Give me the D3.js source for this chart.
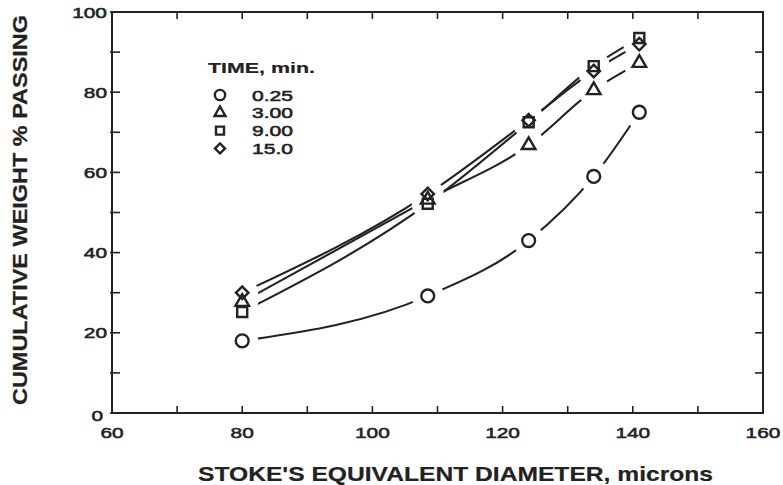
<!DOCTYPE html>
<meta charset="utf-8">
<style>
body { margin: 0; background: #fff; }
svg text {
  font-family: "Liberation Sans", Arial, sans-serif;
  fill: #222;
  stroke: #222;
  stroke-width: 0.55px;
}
text.title { font-weight: bold; stroke-width: 0.2px; }
.frame { fill: none; stroke: #222; stroke-width: 2px; }
.curve { fill: none; stroke: #222; stroke-width: 2.1px; }
.mark { fill: none; stroke: #222; stroke-width: 2.4px; }
.gap { fill: #fff; stroke: none; }
</style>

<svg width="783" height="485"></svg>

<script src="https://d3js.org/d3.v7.min.js"></script>
<script>
// data
var diameters = [80, 108.5, 124, 134, 141];
var times = ["0.25", "3.00", "9.00", "15.0"];
var passing025 = [18, 29.2, 43, 59, 75];
var passing300 = [27.7, 53.2, 66.8, 80.5, 87.3];
var passing900 = [25.2, 52.2, 72.5, 86.5, 93.5];
var passing150 = [30, 54.6, 73, 85.3, 92];
var xTicks = [60, 80, 100, 120, 140, 160];
var yTicks = [0, 20, 40, 60, 80, 100];

var series = [
  {time: times[0], values: passing025, shape: "circle"},
  {time: times[1], values: passing300, shape: "triangle"},
  {time: times[2], values: passing900, shape: "square"},
  {time: times[3], values: passing150, shape: "diamond"}
];

var svg = d3.select("svg");
var x = d3.scaleLinear().domain([60, 160]).range([112, 763]);
var y = d3.scaleLinear().domain([0, 100]).range([413, 12]);

// symbol path per shape
function shapePath(shape, s) {
  s = s || 1;
  if (shape == "circle") return d3.symbol(d3.symbolCircle, 130 * s * s)();
  if (shape == "triangle") return d3.symbol(d3.symbolTriangle, 80 * s * s)();
  if (shape == "square") return d3.symbol(d3.symbolSquare, 100 * s * s)();
  return d3.symbol(d3.symbolSquare, 78 * s * s)();
}

// frame + ticks (all pointing inward)
var minor = d3.range(60, 161, 10), minorY = d3.range(0, 101, 10);
var g = svg.append("g").style("stroke", "#222").style("stroke-width", 1.6);
g.selectAll(".bt").data(minor).enter().append("line")
  .attr("x1", d => x(d)).attr("x2", d => x(d)).attr("y1", y(0)).attr("y2", y(0) - 7);
g.selectAll(".tt").data(minor).enter().append("line")
  .attr("x1", d => x(d)).attr("x2", d => x(d)).attr("y1", y(100)).attr("y2", y(100) + 7);
g.selectAll(".lt").data(minorY).enter().append("line")
  .attr("x1", x(60) - 2).attr("x2", x(60) + 8).attr("y1", d => y(d)).attr("y2", d => y(d));
g.selectAll(".rt").data(minorY).enter().append("line")
  .attr("x1", x(160) - 8).attr("x2", x(160)).attr("y1", d => y(d)).attr("y2", d => y(d));
svg.append("rect").attr("class", "frame")
  .attr("x", x(60)).attr("y", y(100))
  .attr("width", x(160) - x(60)).attr("height", y(0) - y(100));

// tick labels
svg.selectAll(".xl").data(xTicks).enter().append("text")
  .attr("x", d => x(d)).attr("y", 438)
  .attr("text-anchor", "middle").style("font-size", "15.5px")
  .attr("textLength", d => String(d).length * 11.6)
  .attr("lengthAdjust", "spacingAndGlyphs")
  .text(d => d);
svg.selectAll(".yl").data(yTicks).enter().append("text")
  .attr("x", d => d == 0 ? 103 : 107).attr("y", d => y(d) + (d == 0 ? 8 : 5.5))
  .attr("text-anchor", "end").style("font-size", "15.5px")
  .attr("textLength", d => String(d).length * 11.6)
  .attr("lengthAdjust", "spacingAndGlyphs")
  .text(d => d);

// axis titles
svg.append("text").attr("class", "title").attr("x", 198).attr("y", 481)
  .style("font-size", "21px")
  .attr("textLength", 515).attr("lengthAdjust", "spacingAndGlyphs")
  .text("STOKE'S EQUIVALENT DIAMETER, microns");
svg.append("text").attr("class", "title").attr("transform", "translate(27,405) rotate(-90)")
  .style("font-size", "21px")
  .attr("textLength", 390).attr("lengthAdjust", "spacingAndGlyphs")
  .text("CUMULATIVE WEIGHT % PASSING");

// curves
var line = d3.line().x((d, i) => x(diameters[i])).y(d => y(d)).curve(d3.curveMonotoneX);
svg.selectAll(".curve").data(series).enter().append("path")
  .attr("class", "curve").attr("d", d => line(d.values));

// white gaps round every marker so the curves stop short of them
var pts = [];
series.forEach(s => s.values.forEach((v, i) => pts.push({s: s, x: diameters[i], v: v})));
svg.append("g").selectAll("circle").data(pts).enter().append("circle")
  .attr("class", "gap")
  .attr("cx", d => x(d.x)).attr("cy", d => y(d.v)).attr("r", 16);

// markers
svg.append("g").selectAll("path").data(pts).enter().append("path")
  .attr("class", "mark")
  .attr("d", d => shapePath(d.s.shape))
  .attr("transform", d => "translate(" + x(d.x) + "," + y(d.v) + ")" + (d.s.shape == "diamond" ? " rotate(45)" : ""));

// legend
var lg = svg.append("g");
lg.append("text").attr("class", "title").attr("x", 208).attr("y", 73).style("font-size", "15.5px")
  .attr("textLength", 107).attr("lengthAdjust", "spacingAndGlyphs")
  .text("TIME, min.");
var rows = lg.selectAll(".row").data(series).enter().append("g")
  .attr("transform", (d, i) => "translate(220," + (95 + i * 17.8) + ")");
rows.append("path").attr("class", "mark")
  .attr("d", d => shapePath(d.shape, 0.8))
  .attr("transform", d => d.shape == "diamond" ? "rotate(45)" : null);
rows.append("text").attr("x", 32).attr("y", 5.5).style("font-size", "15px")
  .attr("textLength", 41).attr("lengthAdjust", "spacingAndGlyphs")
  .text(d => d.time);
</script>
